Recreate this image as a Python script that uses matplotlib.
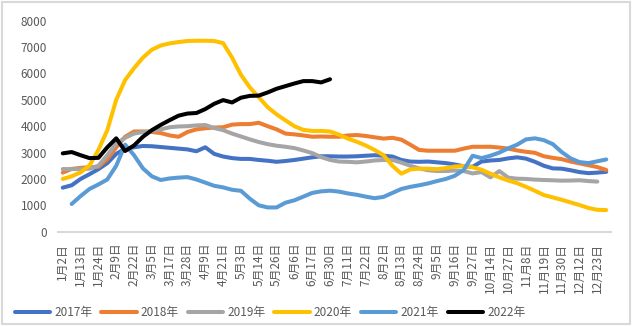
import numpy as np
import matplotlib
matplotlib.use("Agg")
import matplotlib.pyplot as plt
from matplotlib.patches import Rectangle

plt.rcParams['font.family'] = ['Noto Sans CJK SC', 'DejaVu Sans']

# x categories (labels shown on every other point)
tick_labels = ["1月2日", "1月13日", "1月24日", "2月9日", "2月22日", "3月5日", "3月17日",
               "3月28日", "4月9日", "4月21日", "5月3日", "5月14日", "5月26日", "6月6日",
               "6月17日", "6月30日", "7月11日", "7月22日", "8月2日", "8月13日", "8月24日",
               "9月5日", "9月16日", "9月27日", "10月14日", "10月27日", "11月8日", "11月19日",
               "11月30日", "12月12日", "12月23日"]
n_points = 62

y2017 = [1670, 1760, 2000, 2180, 2370, 2600, 2950, 3150, 3200, 3250, 3240, 3210, 3180, 3150,
         3120, 3050, 3200, 2950, 2850, 2790, 2760, 2760, 2720, 2690, 2650, 2680, 2720, 2770,
         2820, 2860, 2860, 2850, 2850, 2860, 2880, 2900, 2880, 2850, 2720, 2660, 2650, 2660,
         2630, 2600, 2550, 2480, 2460, 2660, 2700, 2720, 2780, 2820, 2770, 2650, 2500, 2400,
         2390, 2330, 2260, 2220, 2240, 2270]
y2018 = [2240, 2380, 2420, 2440, 2460, 2750, 3200, 3600, 3800, 3800, 3780, 3740, 3650, 3600,
         3780, 3880, 3920, 3950, 3960, 4060, 4080, 4080, 4130, 4000, 3880, 3720, 3690, 3650,
         3600, 3610, 3600, 3600, 3650, 3665, 3630, 3580, 3530, 3560, 3490, 3300, 3100, 3070,
         3070, 3070, 3070, 3150, 3220, 3220, 3220, 3190, 3150, 3080, 3030, 2990, 2860, 2800,
         2750, 2660, 2590, 2520, 2450, 2340]
y2019 = [2375, 2375, 2375, 2390, 2500, 2900, 3350, 3560, 3720, 3780, 3820, 3880, 3960, 3990,
         4000, 4030, 4045, 3930, 3850, 3720, 3610, 3500, 3400, 3320, 3260, 3220, 3170, 3080,
         2980, 2830, 2720, 2660, 2650, 2630, 2660, 2700, 2720, 2720, 2620, 2500, 2400, 2330,
         2300, 2300, 2320, 2300, 2210, 2260, 2060, 2300, 2050, 2010, 2000, 1975, 1960, 1950,
         1935, 1940, 1950, 1920, 1900]
y2020 = [2000, 2100, 2250, 2510, 3100, 3850, 5000, 5750, 6200, 6600, 6900, 7060, 7140, 7190,
         7230, 7240, 7240, 7230, 7150, 6600, 5950, 5470, 5100, 4720, 4450, 4220, 4000, 3860,
         3820, 3820, 3800, 3680, 3530, 3410, 3270, 3100, 2900, 2500, 2200, 2360, 2390, 2390,
         2370, 2410, 2470, 2490, 2440, 2350, 2200, 2060, 1940, 1840, 1700, 1550, 1390, 1300,
         1210, 1110, 1010, 900, 830, 820]
y2021 = [None, 1050, 1350, 1620, 1790, 1980, 2500, 3300, 2900, 2400, 2100, 1960, 2020, 2050,
         2070, 1980, 1860, 1740, 1680, 1590, 1550, 1250, 1000, 920, 920, 1100, 1190, 1330,
         1470, 1530, 1555, 1520, 1450, 1400, 1330, 1270, 1320, 1470, 1620, 1700, 1760, 1830,
         1920, 2000, 2120, 2340, 2880, 2790, 2880, 3000, 3160, 3300, 3500, 3540, 3470, 3320,
         3020, 2780, 2640, 2600, 2670, 2740]
y2022 = [2970, 3020, 2900, 2790, 2800, 3200, 3540, 3060, 3270, 3600, 3850, 4050, 4230, 4400,
         4480, 4500, 4650, 4850, 4990, 4900, 5080, 5150, 5160, 5280, 5420, 5520, 5620, 5710,
         5710, 5660, 5780]

series = [("2017年", y2017, "#4472C4"),
          ("2018年", y2018, "#ED7D31"),
          ("2019年", y2019, "#A5A5A5"),
          ("2020年", y2020, "#FFC000"),
          ("2021年", y2021, "#5B9BD5"),
          ("2022年", y2022, "#000000")]

fig = plt.figure(figsize=(6.32, 3.26), dpi=100)
ax = fig.add_axes([58.3 / 632, 1 - 231.7 / 326, 552.4 / 632, 211 / 326])

for name, vals, color in series:
    y = np.array([np.nan if v is None else v for v in vals], dtype=float)
    ax.plot(np.arange(len(y)), y, color=color, lw=2.9, label=name,
            solid_joinstyle='round', solid_capstyle='round')

ax.set_xlim(-0.5, n_points - 0.5)
ax.set_ylim(0, 8000)
ax.set_yticks(np.arange(0, 8001, 1000))
ax.set_xticks(np.arange(0, n_points, 2)[:len(tick_labels)])
ax.set_xticklabels(tick_labels, rotation=90)
ax.tick_params(axis='both', length=0, labelsize=8.5, labelcolor='#595959')
ax.tick_params(axis='x', pad=8)
ax.tick_params(axis='y', pad=8)

# only the bottom axis line is drawn
for side in ['left', 'right', 'top']:
    ax.spines[side].set_visible(False)
ax.spines['bottom'].set_color('#D9D9D9')
ax.spines['bottom'].set_linewidth(1.5)

fig.legend(loc='center', bbox_to_anchor=(270 / 632, 1 - 312.7 / 326), ncol=6,
           frameon=False, fontsize=8.5, handlelength=3.0, handletextpad=0.35,
           columnspacing=0.75, labelcolor='#595959')

# chart border
fig.patches.append(Rectangle((0.003, 0.005), 0.994, 0.99, transform=fig.transFigure,
                             fill=False, edgecolor='#D9D9D9', lw=1.5))

fig.savefig("out.png", dpi=100)
